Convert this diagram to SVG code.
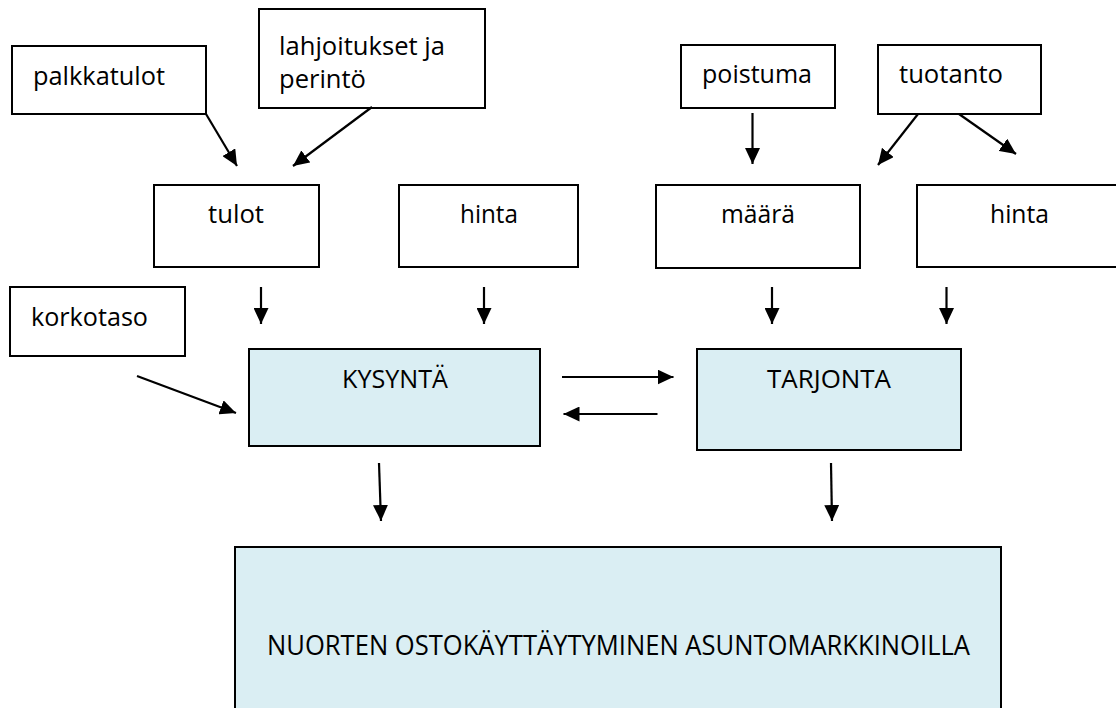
<svg xmlns="http://www.w3.org/2000/svg" width="1116" height="708" viewBox="0 0 1116 708">
<style>
.box{fill:#ffffff;stroke:#000000;stroke-width:2}
.fill{fill:#DAEEF3;stroke:#000000;stroke-width:2}
.t{font-family:"Open Sans","Liberation Sans",sans-serif;font-size:25px;fill:#000000}
.big{font-size:27px}
.c{stroke:#000000;stroke-width:2.2;fill:none;marker-end:url(#ah)}
</style>
<defs>
<marker id="ah" markerUnits="userSpaceOnUse" markerWidth="17" markerHeight="15" refX="16" refY="7.5" orient="auto">
<path d="M0,0 L16,7.5 L0,15 Z" fill="#000000"/>
</marker>
</defs>
<rect width="1116" height="708" fill="#ffffff"/>
<g id="palkkatulot"><rect class="box" x="12" y="46" width="194" height="68"/><text class="t" x="33" y="85" textLength="132" lengthAdjust="spacingAndGlyphs">palkkatulot</text></g>
<g id="lahjoitukset"><rect class="box" x="259" y="9" width="226" height="99"/><text class="t" x="279" y="55" textLength="166" lengthAdjust="spacingAndGlyphs">lahjoitukset ja</text><text class="t" x="279" y="88" textLength="87" lengthAdjust="spacingAndGlyphs">perintö</text></g>
<g id="poistuma"><rect class="box" x="681" y="45" width="154" height="63"/><text class="t" x="702" y="83" textLength="110" lengthAdjust="spacingAndGlyphs">poistuma</text></g>
<g id="tuotanto"><rect class="box" x="878" y="45" width="163" height="69"/><text class="t" x="899" y="83" textLength="104" lengthAdjust="spacingAndGlyphs">tuotanto</text></g>
<g id="tulot"><rect class="box" x="154" y="185" width="165" height="82"/><text class="t" x="208" y="223" textLength="56" lengthAdjust="spacingAndGlyphs">tulot</text></g>
<g id="hinta1"><rect class="box" x="399" y="185" width="179" height="82"/><text class="t" x="460" y="223" textLength="58" lengthAdjust="spacingAndGlyphs">hinta</text></g>
<g id="maara"><rect class="box" x="656" y="185" width="204" height="83"/><text class="t" x="721" y="223" textLength="74" lengthAdjust="spacingAndGlyphs">määrä</text></g>
<g id="hinta2"><rect class="box" x="917" y="185" width="220" height="82"/><text class="t" x="990" y="223" textLength="59" lengthAdjust="spacingAndGlyphs">hinta</text></g>
<g id="korkotaso"><rect class="box" x="10" y="287" width="175" height="69"/><text class="t" x="31" y="326" textLength="117" lengthAdjust="spacingAndGlyphs">korkotaso</text></g>
<g id="kysynta"><rect class="fill" x="249" y="349" width="291" height="97"/><text class="t" x="342" y="388" textLength="106" lengthAdjust="spacingAndGlyphs">KYSYNTÄ</text></g>
<g id="tarjonta"><rect class="fill" x="697" y="349" width="264" height="101"/><text class="t" x="767" y="388" textLength="124" lengthAdjust="spacingAndGlyphs">TARJONTA</text></g>
<g id="nuorten"><rect class="fill" x="235" y="547" width="766" height="180"/><text class="t big" x="267" y="655" textLength="703" lengthAdjust="spacingAndGlyphs">NUORTEN OSTOKÄYTTÄYTYMINEN ASUNTOMARKKINOILLA</text></g>
<g id="connectors">
<line class="c" x1="206" y1="114" x2="237" y2="166"/>
<line class="c" x1="372" y1="107" x2="293" y2="166"/>
<line class="c" x1="752.5" y1="113" x2="752.5" y2="164"/>
<line class="c" x1="918" y1="114" x2="878" y2="165"/>
<line class="c" x1="959" y1="114" x2="1016" y2="154"/>
<line class="c" x1="261" y1="287" x2="261" y2="324"/>
<line class="c" x1="484" y1="287" x2="484" y2="324"/>
<line class="c" x1="772" y1="287" x2="772" y2="324"/>
<line class="c" x1="946.5" y1="287" x2="946.5" y2="324"/>
<line class="c" x1="137" y1="376" x2="236" y2="413"/>
<line class="c" x1="562" y1="377" x2="673.5" y2="377"/>
<line class="c" x1="657.5" y1="414" x2="563.5" y2="414"/>
<line class="c" x1="379" y1="463" x2="381" y2="521"/>
<line class="c" x1="831" y1="463" x2="832" y2="521"/>
</g>
</svg>
